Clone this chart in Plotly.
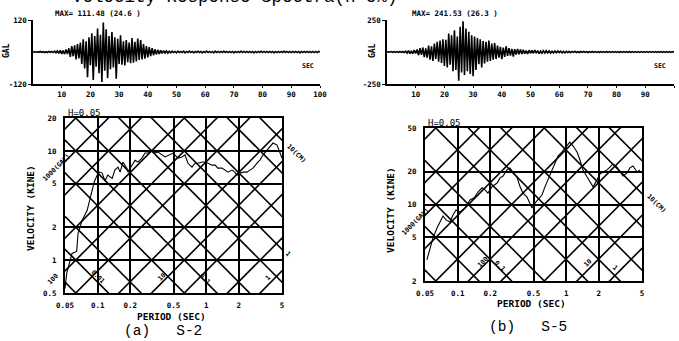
import math
import plotly.graph_objects as go

W, H = 679, 341

# ---------------- data ----------------
DT = 0.5  # s, sample spacing of the digitised accelerograms

ACC_S2 = [0, 1, -1, 1, -1, 2, -1, 1, -2, 1, -2, 2, -1, 2, -2, 3, -3,
          4, -5, 6, -7, 5, -8, 9, -8,
          14, -18, 22, -16, 25, -28, 30, -24,
          35, -45, 48, -62, 40, -95, 55, -50,
          70, -105, 60, -55, 88, -80, 65, -112,
          111, -70, 85, -98, 60, -65, 75, -58,
          55, -100, 50, -45, 63, -48, 40, -50,
          45, -38, 35, -42, 52, -40, 38, -35,
          50, -30, 45, -28, 30, -25, 22, -20,
          18, -15, 14, -12, 10, -9, 8, -7,
          6, -5, 5, -4, 4, -4, 3, -3,
          3, -2, 2, -3, 3, -2, 2, -2, 3, -3, 2, -2, 3, -2, 2, -3, 2, -2, 3, -2,
          2, -3, 2, -2, 3, -2, 2, -2, 2, -3, 3, -2, 2, -2, 2, -2, 3, -2, 2, -2,
          2, -2, 2, -3, 2, -2, 2, -2, 3, -2, 2, -2, 2, -2, 2, -2, 2, -3, 2, -2,
          2, -2, 3, -2, 2, -2, 2, -2, 2, -2, 2, -3, 2, -2, 2, -2, 2, -2, 3, -2,
          2, -2, 2, -2, 2, -2, 2, -2, 2, -3, 2, -2, 2, -2, 2, -2, 2, -2, 2, -2,
          2, -2, 2, 0]

ACC_S5 = [0, 2, -2, 3, -2, 3, -3, 2, -3, 4, -3, 4, -4,
          6, -8, 10, -12, 8, -14, 15, -12,
          20, -25, 30, -22, 35, -40, 28, -45,
          50, -60, 45, -70, 65, -55, 80, -75,
          90, -85, 100, -110, 95, -120, 145, -100,
          130, -150, 170, -140, 120, -224, 197, -160,
          241, -180, 184, -150, 158, -171, 130, -190,
          120, -140, 110, -95, 100, -120, 85, -90,
          80, -75, 90, -70, 65, -60, 70, -55,
          50, -45, 40, -55, 35, -38, 45, -30,
          30, -28, 25, -35, 22, -20, 24, -18,
          20, -15, 18, -14, 12, -15, 14, -10,
          12, -10, 14, -9, 10, -12, 8, -10,
          9, -8, 10, -7, 8, -9, 6, -7,
          7, -6, 8, -5, 6, -7, 5, -6,
          5, -4, 4, -5, 4, -3, 5, -4, 3, -4, 4, -3, 4, -3, 3, -4, 3, -3, 4, -3,
          3, -3, 3, -4, 3, -3, 3, -3, 4, -3, 3, -3, 3, -3, 3, -3, 3, -4, 3, -3,
          3, -3, 3, -3, 4, -3, 3, -3, 3, -3, 3, -3, 3, -3, 3, -3, 3, -3, 3, -3,
          3, -3, 3, -3, 3, -3, 3, -3, 3, -3, 3, -3, 3, -3, 3, 0]

PER_S2 = [0.050, 0.052, 0.058, 0.062, 0.064, 0.066, 0.069, 0.072, 0.080, 0.085,
          0.089, 0.093, 0.099, 0.104, 0.110, 0.117, 0.124, 0.136, 0.144, 0.154,
          0.161, 0.171, 0.186, 0.190, 0.207, 0.221, 0.235, 0.256, 0.273, 0.291,
          0.317, 0.337, 0.360, 0.418, 0.495, 0.550, 0.598, 0.638, 0.680, 0.740,
          0.789, 0.841, 0.916, 0.975, 1.04, 1.13, 1.21, 1.28, 1.40, 1.49,
          1.59, 1.73, 1.84, 1.92, 2.05, 2.19, 2.38, 2.53, 2.70, 2.94,
          3.13, 3.34, 3.64, 3.87, 4.13, 4.50, 4.79, 5.0]
VEL_S2 = [0.55, 0.77, 1.15, 1.18, 1.20, 1.76, 2.08, 2.32, 2.86, 3.54,
          4.37, 5.2, 6.0, 6.4, 6.26, 5.3, 6.0, 5.6, 6.67, 7.1,
          6.4, 7.9, 6.9, 6.4, 7.4, 8.2, 7.9, 8.6, 9.55, 9.55,
          10.2, 9.55, 9.75, 8.8, 9.55, 8.6, 8.8, 9.2, 7.7, 7.1,
          7.7, 7.7, 7.9, 7.9, 7.7, 7.4, 7.4, 6.95, 6.95, 6.67,
          6.39, 6.67, 6.39, 6.0, 6.26, 6.39, 6.39, 6.67, 6.95, 7.73,
          8.24, 9.16, 10.2, 10.8, 11.8, 11.3, 9.55, 8.6]

PER_S5 = [0.052, 0.0556, 0.0593, 0.0645, 0.0688, 0.0733, 0.0781, 0.085, 0.0905, 0.0966,
          0.105, 0.117, 0.130, 0.142, 0.154, 0.168, 0.179, 0.190, 0.207, 0.231,
          0.246, 0.262, 0.285, 0.303, 0.323, 0.352, 0.376, 0.400, 0.436, 0.464,
          0.484, 0.516, 0.550, 0.598, 0.638, 0.680, 0.740, 0.789, 0.841, 0.916,
          0.975, 1.04, 1.08, 1.16, 1.26, 1.34, 1.43, 1.56, 1.66, 1.77,
          1.92, 2.05, 2.19, 2.38, 2.53, 2.70, 2.94, 3.13, 3.34, 3.64,
          3.87, 4.13, 4.50, 4.79]
VEL_S5 = [3.12, 3.85, 4.95, 6.10, 6.93, 7.86, 7.23, 6.93, 8.02, 8.91,
          8.55, 9.29, 11.0, 11.5, 13.0, 14.2, 13.6, 12.7, 14.5, 15.7,
          17.5, 18.2, 20.7, 21.6, 19.8, 17.8, 14.5, 12.7, 11.7, 10.3,
          9.29, 10.3, 11.0, 12.2, 14.5, 16.7, 20.7, 23.9, 27.7, 30.2,
          32.8, 35.7, 37.2, 34.2, 30.2, 25.5, 20.7, 17.8, 16.1, 14.5,
          16.7, 19.0, 19.8, 20.7, 22.0, 23.5, 22.0, 19.8, 18.2, 19.4,
          21.6, 22.5, 19.8, 20.7]

# tripartite reference lines
ACC_LINES = [1, 2, 5, 10, 20, 50, 100, 200, 500, 1000, 2000, 5000]          # gal
DISP_LINES = [0.002, 0.005, 0.01, 0.02, 0.05, 0.1, 0.2, 0.5, 1, 2, 5, 10, 20, 50]  # cm

PERIOD_TICKS = [0.05, 0.1, 0.2, 0.5, 1, 2, 5]
PERIOD_TEXT = ["0.05", "0.1", "0.2", "0.5", "1", "2", "5"]
VEL_TICKS_S2 = [0.5, 1, 2, 5, 10, 20]
VEL_TEXT_S2 = ["0.5", "1", "2", "5", "10", "20"]
VEL_TICKS_S5 = [2, 5, 10, 20, 50]
VEL_TEXT_S5 = ["2", "5", "10", "20", "50"]
TIME_TICKS = [10, 20, 30, 40, 50, 60, 70, 80, 90, 100]

# ---------------- figure ----------------
def px(x):
    return x / W

def py(y):
    return 1 - y / H

MONO = "DejaVu Sans Mono"
TF = dict(family=MONO, size=7.5, color="black", weight="bold")

fig = go.Figure()

t_s2 = [i * DT for i in range(len(ACC_S2))]
t_s5 = [i * DT for i in range(len(ACC_S5))]
fig.add_trace(go.Scatter(x=t_s2, y=ACC_S2, mode="lines", line=dict(color="black", width=1.6),
                         xaxis="x", yaxis="y", showlegend=False, hoverinfo="skip"))
fig.add_trace(go.Scatter(x=t_s5, y=ACC_S5, mode="lines", line=dict(color="black", width=1.6),
                         xaxis="x2", yaxis="y2", showlegend=False, hoverinfo="skip"))

TT = [0.01, 50.0]
for xa, ya in (("x3", "y3"), ("x4", "y4")):
    for a in ACC_LINES:
        fig.add_trace(go.Scatter(x=TT, y=[a * t / (2 * math.pi) for t in TT], mode="lines",
                                 line=dict(color="black", width=1.6), xaxis=xa, yaxis=ya,
                                 showlegend=False, hoverinfo="skip"))
    for d in DISP_LINES:
        fig.add_trace(go.Scatter(x=TT, y=[2 * math.pi * d / t for t in TT], mode="lines",
                                 line=dict(color="black", width=1.6), xaxis=xa, yaxis=ya,
                                 showlegend=False, hoverinfo="skip"))

fig.add_trace(go.Scatter(x=PER_S2, y=VEL_S2, mode="lines", line=dict(color="black", width=1.1),
                         xaxis="x3", yaxis="y3", showlegend=False, hoverinfo="skip"))
fig.add_trace(go.Scatter(x=PER_S5, y=VEL_S5, mode="lines", line=dict(color="black", width=1.1),
                         xaxis="x4", yaxis="y4", showlegend=False, hoverinfo="skip"))


def seis_x(x0, x1, anchor):
    return dict(domain=[px(x0), px(x1)], range=[0, 100], anchor=anchor, tickvals=TIME_TICKS,
                ticks="outside", ticklen=2, tickwidth=1.2, tickcolor="black", showline=True,
                linecolor="black", linewidth=1.5, showgrid=False, zeroline=False, tickfont=TF,
                fixedrange=True)


def seis_y(amax, anchor):
    return dict(domain=[py(84), py(20)], range=[-amax, amax], anchor=anchor,
                tickvals=[-amax, amax], ticktext=["-%d" % amax, "%d" % amax],
                ticks="outside", ticklen=3, tickwidth=1.2, tickcolor="black", showline=True,
                linecolor="black", linewidth=1.5, showgrid=False, zeroline=False, tickfont=TF,
                fixedrange=True)


def spec_x(x0, x1, anchor):
    return dict(domain=[px(x0), px(x1)], type="log", range=[math.log10(0.05), math.log10(5)],
                anchor=anchor, tickvals=PERIOD_TICKS, ticktext=PERIOD_TEXT, ticks="",
                showgrid=True, gridcolor="black", gridwidth=1.6, showline=True, mirror=True,
                linecolor="black", linewidth=2, zeroline=False, tickfont=TF, fixedrange=True,
                ticklabelstandoff=4)


def spec_y(y0, y1, vmin, vmax, tv, tt, anchor):
    return dict(domain=[py(y1), py(y0)], type="log", range=[math.log10(vmin), math.log10(vmax)],
                anchor=anchor, tickvals=tv, ticktext=tt, ticks="", showgrid=True,
                gridcolor="black", gridwidth=1.6, showline=True, mirror=True, linecolor="black",
                linewidth=2, zeroline=False, tickfont=TF, fixedrange=True, ticklabelstandoff=5)


fig.update_layout(
    width=W, height=H, margin=dict(l=0, r=0, t=0, b=0, autoexpand=False),
    paper_bgcolor="white", plot_bgcolor="white", showlegend=False,
    xaxis=seis_x(33, 320, "y"), yaxis=seis_y(120, "x"),
    xaxis2=seis_x(387, 674, "y2"), yaxis2=seis_y(250, "x2"),
    xaxis3=spec_x(65, 282, "y3"),
    yaxis3=spec_y(118, 293, 0.5, 20, VEL_TICKS_S2, VEL_TEXT_S2, "x3"),
    xaxis4=spec_x(425, 642, "y4"),
    yaxis4=spec_y(128, 281, 2, 50, VEL_TICKS_S5, VEL_TEXT_S5, "x4"),
)

anns = []


def note(x, y, text, size=7.5, angle=0, xanchor="center", family=MONO, weight="bold"):
    anns.append(dict(x=px(x), y=py(y), xref="paper", yref="paper", text=text, showarrow=False,
                     textangle=angle, xanchor=xanchor, yanchor="middle",
                     font=dict(family=family, size=size, color="black", weight=weight)))


# title (cut by the top edge, as in the scan)
note(70, -3, "Velocity Response Spectra(h=5%)", size=17.5, xanchor="left",
     family="Liberation Mono", weight="normal")

# seismogram texts
note(53, 14, "MAX= 111.48 (24.6 )", size=7.5, xanchor="left")
note(410, 14, "MAX= 241.53 (26.3 )", size=7.5, xanchor="left")
note(7, 51, "GAL", size=8, angle=-90)
note(373, 51, "GAL", size=8, angle=-90)
note(308, 66, "SEC", size=6.5)
note(660, 66, "SEC", size=6.5)

# spectrum texts
note(66, 113, "H=0.05", size=9, xanchor="left", weight="normal")
note(426, 123, "H=0.05", size=9, xanchor="left", weight="normal")
note(30, 208, "VELOCITY (KINE)", size=9.5, angle=-90)
note(390, 210, "VELOCITY (KINE)", size=9.5, angle=-90)
note(171, 316, "PERIOD (SEC)", size=9.5)
note(531, 303, "PERIOD (SEC)", size=9.5)

# tripartite labels, panel (a)
note(56, 168, "1000(GAL)", size=6.5, angle=-45)
note(53, 279, "100", size=6.5, angle=-45)
note(98, 277, "0.01", size=6.5, angle=45)
note(162, 277, "10", size=6.5, angle=-45)
note(205, 279, "0.1", size=6.5, angle=45)
note(268, 278, "1", size=6.5, angle=-45)
note(296, 153, "10(CM)", size=6.5, angle=45)
note(288, 254, "1", size=6.5, angle=45)

# tripartite labels, panel (b)
note(415, 222, "1000(GAL)", size=6.5, angle=-45)
note(483, 262, "100", size=6.5, angle=-45)
note(500, 266, "0.1", size=6.5, angle=45)
note(588, 263, "10", size=6.5, angle=-45)
note(615, 268, "1", size=6.5, angle=45)
note(656, 203, "10(CM)", size=6.5, angle=45)

# captions
note(163, 331, "(a)   S-2", size=14.5, family="Liberation Mono", weight="normal")
note(528, 327, "(b)   S-5", size=14.5, family="Liberation Mono", weight="normal")

fig.update_layout(annotations=anns)
fig.write_html("out.html", config={"displayModeBar": False},
               post_script="document.body.style.margin='0';document.body.style.padding='0';")
